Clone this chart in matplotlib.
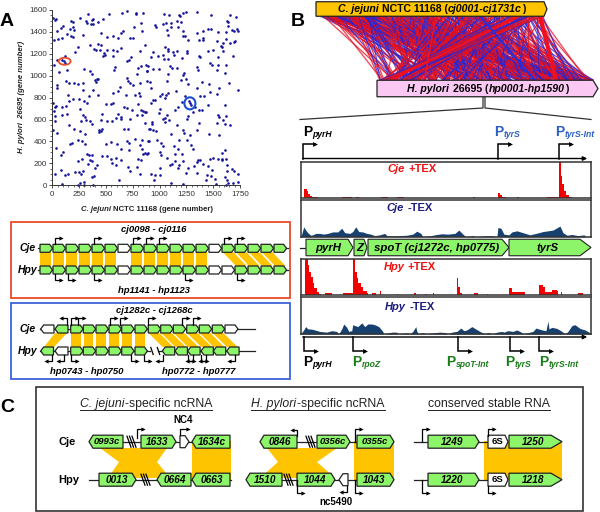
import numpy as np
import matplotlib
matplotlib.use("Agg")
import matplotlib.pyplot as plt
from matplotlib.collections import LineCollection
from matplotlib.patches import Polygon, Rectangle, Ellipse

plt.rcParams['font.family'] = ['Liberation Sans', 'DejaVu Sans']

# panel A, gene number pairs, one pair of lists per quadrant
cje_q1 = [31,3,25,97,81,47,16,56,93,134,165,190,202,174,190,258,336,311,326,367,382,358,376,429,469,532,653,699,777,780,842,824,765,656,640,724,749,839,454,283,171,196,513,569,615,351,423,451,392,404,445,513,569,637,482,469,491,563,600,236,212,817,733,699,718,584,575,870,824,793,802,880,118,41,16,66,140,299,351,367,413,429,398,407,693,709,724,749,817,880,128,159,202,243,289,41,47,289,382,429,149,342,631,615,687,569,811,817,771,93,109,121]
hpy_q1 = [1521,1527,1512,1451,1435,1405,1323,1335,1344,1381,1429,1442,1420,1502,1490,1527,1563,1496,1481,1505,1521,1472,1475,1487,1518,1563,1572,1588,1572,1563,1572,1481,1442,1411,1390,1344,1344,1405,1390,1369,1359,1350,1353,1359,1344,1277,1289,1283,1247,1232,1238,1238,1238,1253,1207,1177,1192,1177,1223,1259,1213,1223,1168,1137,1146,1077,1049,1095,1086,1019,1070,1046,1183,1146,1101,1034,1055,1061,1040,1019,973,970,964,943,979,955,933,912,933,949,949,930,933,924,933,918,888,867,873,821,821,812,894,864,821,842,842,812,821,1140,1131,1119]
cje_q2 = [1044,1091,1184,1190,1221,1243,1346,1479,1656,1709,1625,1641,957,963,1035,1060,1103,1159,1200,1066,1106,1175,1215,1075,1215,1237,1262,1352,1408,1448,1476,1548,1619,1678,1697,1718,1728,1641,1408,1402,1367,1538,1619,1594,1656,1694,1703,1572,1585,1594,1501,1454,1687,864,1050,1075,1081,1128,1159,1137,1252,1259,935,920,988,1035,1044,1081,1212,1367,1377,1541,1470,1485,1548,1619,1532,1610,889,880,942,998,1097,1113,1165,1346,1361,1075,1231,1221,1066,1200,1243,1262,911,920,1352,1392,1461,1647,1734,1554,1538,1470,1417,1377,1057,1019,1081,1153,1004,1237]
hpy_q2 = [1563,1557,1557,1542,1575,1581,1581,1557,1551,1533,1502,1490,1460,1448,1472,1481,1481,1502,1490,1420,1442,1442,1405,1375,1359,1359,1323,1390,1411,1426,1426,1396,1399,1420,1405,1429,1411,1451,1344,1329,1323,1320,1335,1296,1299,1305,1314,1268,1259,1223,1238,1223,1183,1277,1259,1247,1223,1213,1229,1192,1223,1210,1213,1168,1177,1192,1156,1156,1162,1183,1168,1168,1116,1101,1101,1101,1052,1022,1092,1040,1061,1061,1086,1070,1070,1077,1055,1019,1022,1010,949,961,970,924,943,888,888,943,924,933,873,888,833,851,812,812,827,833,842,857,812,812]
cje_q3 = [196,156,252,299,326,3,25,34,87,124,16,25,25,87,134,258,289,305,314,264,351,373,451,466,500,547,569,513,553,590,615,637,668,693,740,802,824,842,870,793,833,724,640,159,3,41,202,258,305,438,451,460,435,668,702,904,243,274,305,165,180,31,103,81,500,547,600,699,718,771,839,901,817,637,715,833,849,886,320,345,373,460,507,274,243,351,373,330,547,590,559,590,637,802,824,709,793,724,817,413,398,78,25,118,149,212,252,283,264,367,389,93,258,299,299,382,625,243]
hpy_q3 = [791,766,791,766,754,754,715,721,715,724,678,630,587,645,654,700,645,623,599,587,587,563,593,654,739,745,754,587,587,617,654,623,715,709,684,739,684,678,669,639,639,608,608,547,502,480,511,493,471,502,493,511,487,517,511,517,417,401,380,374,386,344,304,274,374,395,380,401,386,420,417,401,365,334,319,334,289,283,289,274,274,268,265,243,219,228,219,198,243,249,207,182,228,243,228,167,167,131,100,182,161,137,100,91,100,122,122,131,106,76,85,15,21,30,0,0,45,0]
cje_q4 = [1277,1283,1290,920,942,957,1050,1212,1144,1175,1004,994,1066,1050,1035,1088,1050,864,864,932,932,1159,1268,1252,1315,1367,1398,1330,1454,1610,1541,1554,1594,1619,1532,1610,1656,1367,911,942,967,1215,1231,1283,1352,1103,1461,1554,895,979,1013,1035,1184,1252,1290,1134,1175,1315,864,889,1004,1013,1072,1144,1206,1144,1215,1113,1097,1184,1175,1004,1262,1324,1346,1361,1377,1408,1454,1470,1501,1548,1585,1619,1585,1610,1579,1625,1625,1678,1697,1728,1492,1346,1243,920,957,1004,951,1106,1221,1432,1476,1439,1516,1523,1610,1631,1641,1687,1728,1619]
hpy_q4 = [769,751,730,751,776,782,797,760,690,715,700,663,639,617,608,599,578,669,569,578,563,547,630,608,669,684,684,715,730,736,639,623,599,630,569,563,547,569,517,502,496,508,477,462,502,465,465,462,404,417,389,356,417,410,371,359,328,328,298,295,304,274,252,283,289,222,219,198,182,182,161,161,161,176,213,228,234,192,176,243,252,243,243,243,298,319,228,131,188,152,131,100,143,112,112,106,91,97,45,24,9,45,82,97,61,15,76,45,21,21,30,0]

# panel B, strong synteny links (cje gene, hpy gene)
thick_cje = [1708, 1552, 1240, 900]
thick_hpy = [1309, 74, 1150, 330]
thick_col = ['#f01020', '#f01020', '#2030e0', '#f01020']
thick_lw = [3.0, 1.8, 1.4, 1.2]

# panel B, read counts along the window (position, percent of track height)
cje_plus_pos = [3,6,7,9,11,17,41,51,55,58,80,87,96,103,172,174,197,199,201,205,216,218,246,257,258,260,261,263,265,268,271]
cje_plus_val = [25,20,12,5,3,0,3,0,3,0,3,0,3,0,2,0,14,8,3,0,3,0,3,3,100,60,40,20,8,3,0]
cje_minus_pos = [0,1,3,5,7,10,12,15,19,23,27,32,37,41,44,49,52,55,58,62,66,70,74,79,84,86,91,99,106,112,116,120,122,130,136,141,147,154,158,162,165,172,175,182,191,196,197,200,203,208,211,216,222,229,232,238,242,247,252,259,262,266,271,277,283,285,290]
cje_minus_val = [0,7,27,18,11,4,5,9,9,7,9,13,13,23,11,9,14,27,14,13,9,7,3,5,9,3,2,3,4,7,15,9,0,3,6,8,7,9,18,7,0,3,0,2,3,0,25,23,7,5,13,16,11,5,7,11,14,16,18,29,11,4,6,3,5,0,0]
hpy_plus_pos = [4,7,8,10,12,13,16,18,20,24,31,42,51,52,54,56,57,60,62,66,67,71,75,79,80,96,97,113,115,124,126,132,133,156,157,159,161,173,177,186,187,208,211,219,224,238,242,244,251,256,257,260,261,277,282]
hpy_plus_val = [100,84,65,51,33,19,9,4,0,5,0,5,5,100,65,47,33,21,11,5,0,6,0,11,0,3,0,5,0,3,0,5,0,47,23,5,0,6,0,3,0,19,7,9,0,28,21,7,14,11,0,7,0,5,0]
hpy_minus_pos = [0,1,3,5,7,11,14,19,26,31,36,38,41,43,46,48,51,52,57,61,64,67,71,74,78,82,83,91,96,97,106,109,112,115,116,118,122,125,132,139,144,147,151,156,160,163,166,171,174,179,184,187,192,196,201,203,207,212,216,221,222,232,235,241,245,247,248,251,256,261,264,267,271,274,279,284,288,290]
hpy_minus_val = [0,4,11,20,14,13,11,7,5,9,7,0,14,27,18,7,9,25,20,30,20,27,27,25,20,7,0,5,5,0,3,0,7,20,7,0,4,0,3,5,4,0,5,7,16,9,11,20,15,7,0,4,0,5,7,5,9,7,11,4,0,7,16,11,9,35,14,18,15,7,0,7,23,25,15,11,5,0]

# gene labels
c_labels = ['0993c', '1633', '1634c', '0013', '0664', '0663', '0846', '0356c', '0355c', '1510', '1044', '1043', '1249', '1250', '1220', '1218']

GREEN = '#8cf56a'
ORANGE = '#ffc400'
RED_BOX = '#ea4a2a'
BLUE_BOX = '#3d63d6'
NAVY = '#1c1c7c'
DARK = '#17406e'
GREY = '#444444'

fig = plt.figure(figsize=(6, 5.12), dpi=100)


def px_axes(x0, y0, x1, y1, **kw):
    return fig.add_axes([x0 / 600, 1 - y1 / 512, (x1 - x0) / 600, (y1 - y0) / 512], **kw)


# dot plot
ax_a = px_axes(52.3, 10, 240, 185.3)
cje_all = np.concatenate([cje_q1, cje_q2, cje_q3, cje_q4])
hpy_all = np.concatenate([hpy_q1, hpy_q2, hpy_q3, hpy_q4])
ax_a.scatter(cje_all, hpy_all, s=3.6, color='#15159a', linewidths=0, clip_on=False)
ax_a.add_patch(Ellipse((115, 1132), 112, 64, fill=False, ec=RED_BOX, lw=1.3))
ax_a.add_patch(Ellipse((1283, 748), 103, 110, fill=False, ec='#1a50d0', lw=1.5))
ax_a.set_xlim(0, 1750)
ax_a.set_ylim(0, 1600)
ax_a.set_xticks(np.arange(0, 1751, 250))
ax_a.set_yticks(np.arange(0, 1601, 200))
ax_a.set_xticks(np.arange(0, 1751, 50), minor=True)
ax_a.set_yticks(np.arange(0, 1601, 50), minor=True)
ax_a.tick_params(labelsize=5.8, colors='#333333', length=2.5, width=0.6, pad=1.5)
ax_a.tick_params(which='minor', length=1.3, width=0.5, colors='#333333')
for s in ['top', 'right']:
    ax_a.spines[s].set_visible(False)
for s in ['left', 'bottom']:
    ax_a.spines[s].set_linewidth(0.7)
    ax_a.spines[s].set_color('#333333')

# read tracks
tracks = [
    (300.7, 162, 591, 198, cje_plus_pos, cje_plus_val, '#f50000', True),
    (300.7, 200, 591, 236.7, cje_minus_pos, cje_minus_val, DARK, False),
    (300.7, 259, 591, 295, hpy_plus_pos, hpy_plus_val, '#f50000', True),
    (300.7, 297, 591, 334, hpy_minus_pos, hpy_minus_val, DARK, False),
]
for x0, y0, x1, y1, pos, val, col, stepped in tracks:
    ax_t = px_axes(x0, y0, x1, y1)
    if stepped:
        ax_t.fill_between(pos, val, 0, step='post', color=col, lw=0)
    else:
        ax_t.fill_between(pos, val, 0, color=col, lw=0)
    ax_t.set_xlim(0, 290)
    ax_t.set_ylim(0, 100)
    ax_t.set_xticks([])
    ax_t.set_yticks([])
    for s in ax_t.spines.values():
        s.set_linewidth(1.1)
        s.set_color('#333333')

# everything else is drawn in picture pixels on one overlay
ov = fig.add_axes([0, 0, 1, 1], zorder=5)
ov.set_xlim(0, 600)
ov.set_ylim(512, 0)
ov.axis('off')
ov.patch.set_alpha(0)
rend = fig.canvas.get_renderer()


def T(x, y, s, size=7, color='black', weight='bold', style='normal', ha='center', rot=0):
    return ov.text(x, y, s, fontsize=size, color=color, fontweight=weight, fontstyle=style,
                   ha=ha, va='center', rotation=rot, zorder=9)


def mixed(x, y, pieces, center=True, size=7, color='black', weight='bold'):
    # pieces: (text, style, size factor, y shift); a trailing space adds a gap
    made = []
    cur = 0
    for s, style, fac, dy in pieces:
        gap = size * fac * 0.38 if s.endswith(' ') else 0
        t = ov.text(0, y + dy, s.rstrip(), fontsize=size * fac, color=color, fontweight=weight,
                    fontstyle=style, ha='left', va='center', zorder=9)
        w = t.get_window_extent(rend).width
        made.append((t, cur))
        cur += w + gap + 0.4
    start = x - cur / 2 if center else x
    for t, off in made:
        t.set_x(start + off)
    return start, cur


def gene(x0, x1, y, h, d=1, fc=GREEN, tip=4, lw=0.9, label=None, fs=7.2, lcol='black'):
    if d > 0:
        pts = [(x0, y - h / 2), (x1 - tip, y - h / 2), (x1, y), (x1 - tip, y + h / 2), (x0, y + h / 2)]
    else:
        pts = [(x1, y - h / 2), (x0 + tip, y - h / 2), (x0, y), (x0 + tip, y + h / 2), (x1, y + h / 2)]
    ov.add_patch(Polygon(pts, closed=True, fc=fc, ec='#222222', lw=lw, zorder=4))
    if label:
        cx = (x0 + x1) / 2 + (-d * tip * 0.25)
        T(cx, y + 0.3, label, size=fs, style='italic', color=lcol)


def rib(a0, a1, ya, b0, b1, yb):
    ov.add_patch(Polygon([(a0, ya), (a1, ya), (b1, yb), (b0, yb)], closed=True, fc=ORANGE, ec='none', zorder=2))


def tss(x, y, rise, run, col='black', lw=0.9, ms=3):
    end = x + run
    ov.plot([x, x, end], [y, y + rise, y + rise], color=col, lw=lw, zorder=6, solid_joinstyle='miter')
    ov.plot([end], [y + rise], marker='>' if run > 0 else '<', color=col, ms=ms, mew=0, zorder=6)


def hline(x0, x1, y, col='#222222', lw=0.9, z=3):
    ov.plot([x0, x1], [y, y], color=col, lw=lw, zorder=z)


def breaks(x, y, h=5, dx=2, n=2, col='black', lw=0.9, gapw=1.5):
    for i in range(n):
        xx = x + i * gapw
        ov.plot([xx - dx, xx + dx], [y - h, y + h], color=col, lw=lw, zorder=6)


# panel letters
T(7, 21, 'A', size=14)
T(298, 21, 'B', size=14)
T(7, 407, 'C', size=14)

# dot plot axis titles
mixed(147, 209.5, [('C. jejuni ', 'italic', 1, 0), ('NCTC 11168 (gene number)', 'normal', 1, 0)], size=5.6, color='#222222')
t = ov.text(22, 97, 'H. pylori  26695 (gene number)', fontsize=5.6, fontweight='bold', rotation=90,
            ha='center', va='center', color='#222222')
t.set_fontstyle('italic')

# boxed synteny panels
ov.add_patch(Rectangle((10.7, 222), 279.3, 76, fill=False, ec=RED_BOX, lw=1.3))
ov.add_patch(Rectangle((10.7, 302.5), 279.3, 76.5, fill=False, ec=BLUE_BOX, lw=1.3))

y_c, y_h = 248.3, 270
starts = [40 + 13 * i for i in range(19)]
white_c = [6, 13]
white_h = [6, 13, 14]
hline(38, 288, y_c)
hline(38, 288, y_h)
for i, s in enumerate(starts):
    gene(s, s + 12.6, y_c, 8, fc='white' if i in white_c else GREEN, tip=3)
    gene(s, s + 12.6, y_h, 8, fc='white' if i in white_h else GREEN, tip=3)
    if i not in white_c and i < 13:
        rib(s + 0.3, s + 10.5, y_c + 4, s + 0.3, s + 10.5, y_h - 4)
for i in [14, 15, 16, 17]:
    rib(starts[i] + 1, starts[i] + 11.6, y_c + 4, starts[i + 1] + 1, starts[i + 1] + 11.6, y_h - 4)
for i in [1, 4, 7, 8, 9, 14, 15]:
    tss(starts[i] + 2, y_c - 4, -6, 6)
for i in [1, 2, 4, 11, 15]:
    tss(starts[i] + 2, y_h + 4, 6, 6)
T(28, y_c, 'Cje', size=7.5, style='italic')
T(28, y_h, 'Hpy', size=7.5, style='italic')
T(154, 229.5, 'cj0098 - cj0116', size=6.8, style='italic')
T(154, 290.5, 'hp1141 - hp1123', size=6.8, style='italic')

y_c, y_h = 329, 351
cje_rows = [70.7, 83.3, 96, 109, 121.7, 135, 148.3, 160.7, 173.3, 186.7, 199.3, 212.3]
hpy_right = [70.7, 83.3, 96, 109, 121.7, 135]
hpy_left = [162.3, 175, 187.7, 201, 213.3, 226.7]
hline(40, 255, y_c)
hline(40, 150, y_h)
hline(158, 255, y_h)
gene(40.7, 54, y_c, 8, d=-1, fc='white', tip=3)
gene(55, 68, y_c, 8, d=-1, tip=3)
gene(40.7, 53.5, y_h, 8, d=-1, tip=3)
gene(55, 68, y_h, 8, d=-1, fc='white', tip=3)
gene(225, 238, y_c, 8, fc='white', tip=3)
for s in cje_rows:
    gene(s, s + 12.4, y_c, 8, tip=3)
for s in hpy_right:
    gene(s, s + 12.4, y_h, 8, tip=3)
for s in hpy_left:
    gene(s, s + 12.4, y_h, 8, d=-1, tip=3)
rib(55, 67, y_c + 4, 44, 54, y_h - 4)
for s in hpy_right:
    rib(s + 0.3, s + 10, y_c + 4, s + 0.3, s + 10, y_h - 4)
for a, b in zip(cje_rows[6:], hpy_left):
    rib(a + 0.3, a + 11, y_c + 4, b + 0.3, b + 11, y_h - 4)
breaks(152, y_h, h=3.5, n=1, dx=1.2)
breaks(158.5, y_h, h=3.5, n=1, dx=1.2)
for x in [71, 78, 110, 120, 148, 182, 193]:
    tss(x, y_c - 4, -7, 6)
tss(67, y_c - 4, -7, -6)
for x, r in [(71, 6), (131, 6), (144, 6), (163, -6), (188, 6), (193, -6), (201, 6), (206, -6), (235, -6), (52, -6), (64, -6)]:
    tss(x, y_h + 4, 6, r)
T(28, y_c, 'Cje', size=7.5, style='italic')
T(28, y_h + 0.5, 'Hpy', size=7.5, style='italic')
T(154, 310.5, 'cj1282c - cj1268c', size=6.8, style='italic')
T(87, 371, 'hp0743 - hp0750', size=6.8, style='italic')
T(199, 371, 'hp0772 - hp0777', size=6.8, style='italic')

# genome bars and links
cje_scale = 320 + cje_all / 1731 * 223
hpy_scale = 380 + hpy_all / 1590 * 214
segs = [[(a, 16), (b, 80)] for a, b in zip(cje_scale, hpy_scale)]
cols = ['#e8101c' if i % 5 < 3 else '#1c28e0' for i in range(len(segs))]
ov.add_collection(LineCollection(segs, colors='#f2b5c8', linewidths=1.6, alpha=0.55, zorder=1))
ov.add_collection(LineCollection(segs, colors=cols, linewidths=0.7, alpha=0.8, zorder=1.2))
for a, b, c, w in zip(thick_cje, thick_hpy, thick_col, thick_lw):
    ov.plot([320 + a / 1731 * 223, 380 + b / 1590 * 214], [16, 80], color=c, lw=w, zorder=1.4)

gene(316, 547, 9, 14.5, fc='#ffc400', tip=3)
mixed(432, 9, [('C. jejuni ', 'italic', 1, 0), ('NCTC 11168 (', 'normal', 1, 0),
               ('cj0001-cj1731c', 'italic', 1, 0), (')', 'normal', 1, 0)], size=7.6)
gene(377, 598, 88.5, 16.5, fc='#fbc8f4', tip=5)
mixed(488, 88.5, [('H. pylori ', 'italic', 1, 0), ('26695 (', 'normal', 1, 0),
                  ('hp0001-hp1590', 'italic', 1, 0), (')', 'normal', 1, 0)], size=7.6)
ov.plot([483, 483, 300], [97, 108, 119.5], color='#333333', lw=0.9, zorder=3)
ov.plot([485, 485, 591], [97, 108, 119.5], color='#333333', lw=0.9, zorder=3)


def promoter(x, y, name, col):
    mixed(x, y, [('P', 'normal', 1, 0), (name, 'italic', 0.62, 2.5)], center=False, size=10, color=col)


# top promoters
BLUE_T = '#2a5fc4'
GREEN_T = '#1a7d1a'
ov.annotate('', xy=(590, 158.5), xytext=(300, 158.5), arrowprops=dict(arrowstyle='-|>', color='black', lw=1, mutation_scale=6), zorder=6)
for x in [303, 498, 559]:
    tss(x, 158.5, -15, 12, lw=1.1, ms=3.5)
promoter(303, 132, 'pyrH', 'black')
promoter(494, 132, 'tyrS', BLUE_T)
promoter(555, 132, 'tyrS-Int', BLUE_T)

# track titles
mixed(412, 169, [('Cje ', 'italic', 1, 0), ('+TEX', 'normal', 1, 0)], size=8, color='#f01010')
mixed(410, 208, [('Cje ', 'italic', 1, 0), ('-TEX', 'normal', 1, 0)], size=8, color=NAVY)
mixed(410, 267, [('Hpy ', 'italic', 1, 0), ('+TEX', 'normal', 1, 0)], size=8, color='#f01010')
mixed(410, 307, [('Hpy ', 'italic', 1, 0), ('-TEX', 'normal', 1, 0)], size=8, color=NAVY)

# operon between the tracks
hline(300, 306, 247.5)
gene(306, 353, 247.5, 16.5, tip=5, lw=0.8, label='pyrH', fs=8.2)
gene(354, 367, 247.5, 16.5, tip=3, lw=0.8, label='Z', fs=8.2)
gene(368, 509, 247.5, 16.5, tip=7, lw=0.8, label='spoT (cj1272c, hp0775)', fs=8.2)
gene(509, 591, 247.5, 16.5, tip=11, lw=0.8, label='tyrS', fs=8.2)

# bottom promoters
ov.annotate('', xy=(590, 337), xytext=(300, 337), arrowprops=dict(arrowstyle='-|>', color='black', lw=1, mutation_scale=6), zorder=6)
for x in [304, 353, 458, 510, 539]:
    tss(x, 337, 14, 12, lw=1.1, ms=3.5)
promoter(303, 362, 'pyrH', 'black')
promoter(352, 362, 'rpoZ', GREEN_T)
promoter(446, 362, 'spoT-Int', GREEN_T)
promoter(505, 362, 'tyrS', GREEN_T)
promoter(539, 362, 'tyrS-Int', GREEN_T)

# panel C
ov.add_patch(Rectangle((36, 387), 547, 124, fill=False, ec='#333333', lw=1.2))
for cx, parts in [(146, [('C. jejuni', 'italic', 1, 0), ('-specific ncRNA', 'normal', 1, 0)]),
                  (318, [('H. pylori', 'italic', 1, 0), ('-specific ncRNA', 'normal', 1, 0)]),
                  (489, [('conserved stable RNA', 'normal', 1, 0)])]:
    st, wd = mixed(cx, 404, parts, size=8.8, color='#222222', weight='normal')
    ov.plot([st, st + wd], [409.5, 409.5], color='#222222', lw=0.7)

y_c, y_h = 441.7, 479.7
H = 13
T(67, y_c, 'Cje', size=8)
T(69, y_h, 'Hpy', size=8)

ov.add_patch(Polygon([(100, 448), (167, 448), (157, 462), (170, 478), (108, 478), (119, 462)], fc=ORANGE, ec='none', zorder=2))
ov.add_patch(Rectangle((191.5, 441), 39, 39, fc=ORANGE, ec='none', zorder=2))
hline(123, 192, y_c)
hline(89, 231, y_h)
breaks(129, y_c, h=5.5, dx=2, n=3, gapw=2.5, lw=0.9)
breaks(143, y_h, h=5.5, dx=2, n=3, gapw=2.5, lw=0.9)
gene(89, 123, y_c, H, d=-1, label=c_labels[0], fs=6.8)
gene(141, 176, y_c, H, label=c_labels[1])
gene(180, 189, y_c, 12, fc='white', tip=4)
gene(192, 230, y_c, H, d=-1, label=c_labels[2])
gene(99, 136, y_h, H, label=c_labels[3])
gene(157, 191, y_h, H, d=-1, label=c_labels[4])
gene(192, 230, y_h, H, d=-1, label=c_labels[5])
tss(137, y_c - 4, -9, 6)
tss(180, y_c - 7, -6, 8)
T(183, 420, 'NC4', size=7)

ov.add_patch(Polygon([(267, 448), (337, 448), (317, 462), (335, 478), (260, 478), (278, 462)], fc=ORANGE, ec='none', zorder=2))
ov.add_patch(Rectangle((354, 441), 40, 39, fc=ORANGE, ec='none', zorder=2))
hline(297, 357, y_c)
hline(282, 357, y_h)
breaks(308, y_c, h=5.5, dx=2, n=3, gapw=2.5)
breaks(286, y_h, h=5.5, dx=2, n=3, gapw=2.5)
gene(260, 297, y_c, H, d=-1, label=c_labels[6])
gene(317, 350, y_c, H, label=c_labels[7], fs=6.8)
gene(357, 394, y_c, H, label=c_labels[8], fs=6.8)
gene(246, 282, y_h, H, d=-1, label=c_labels[9])
gene(297, 335, y_h, H, label=c_labels[10])
gene(339, 348, y_h, 12, d=-1, fc='white', tip=4)
gene(357, 394, y_h, H, label=c_labels[11])
tss(297, y_c - 6, -6, -5)
tss(355, y_c, -13, 6)
tss(297, y_h, 13, 6)
tss(347, y_h + 6, 6, -6)
tss(355, y_h, 13, 6)
T(336, 502, 'nc5490', size=7)

ov.add_patch(Rectangle((484, 441), 78, 39, fc=ORANGE, ec='none', zorder=2))
for y, lab_a, lab_b, rise in [(y_c, c_labels[12], c_labels[13], -13), (y_h, c_labels[14], c_labels[15], 13)]:
    hline(414, 488, y)
    gene(428, 479, y, H, label=lab_a)
    gene(488, 508, y, H, fc='white', tip=3, label='6S', fs=6.8)
    ov.texts[-1].set_fontstyle('normal')
    gene(509, 562, y, H, tip=11, label=lab_b)
    tss(422, y, rise, 6)
    tss(488, y + (rise / 13) * 6, (rise / 13) * 7, 6)

fig.savefig('out.png', dpi=100)
